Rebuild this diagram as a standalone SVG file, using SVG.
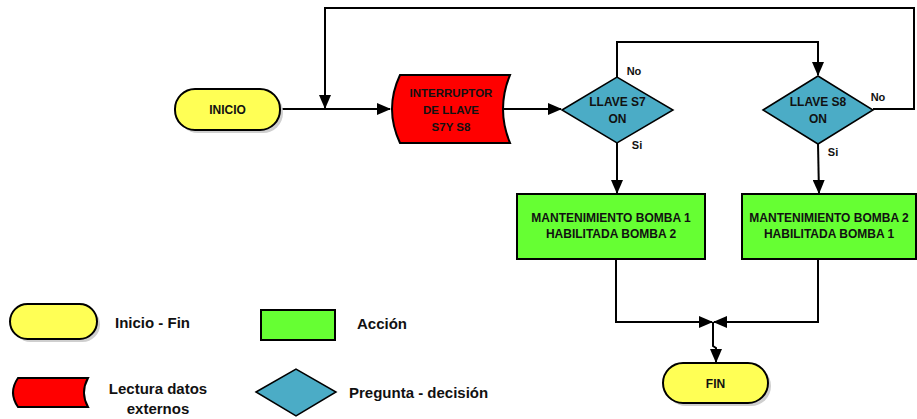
<svg xmlns="http://www.w3.org/2000/svg" width="917" height="419" viewBox="0 0 917 419">
<style>
text{font-family:"Liberation Sans",Arial,sans-serif;font-weight:bold;fill:#111;text-anchor:middle}
.t{font-size:12px}
.lbl{font-size:11px}
.leg{font-size:15px;text-anchor:start}
.sh{fill:#cfcfcf}
.term{fill:#ffff55;stroke:#000;stroke-width:2}
.act{fill:#66ff33;stroke:#000;stroke-width:2}
.dat{fill:#ff0000;stroke:#000;stroke-width:2}
.dec{fill:#4bacc6;stroke:#000;stroke-width:1.5}
.c{fill:none;stroke:#000;stroke-width:2}
</style>
<defs>
<marker id="ah" markerUnits="userSpaceOnUse" markerWidth="14" markerHeight="12" refX="13" refY="6" orient="auto">
<path d="M0,0 L14,6 L0,12 Z" fill="#000"/>
</marker>
</defs>
<g id="connectors">
<path class="c" d="M280,109 L390,109" marker-end="url(#ah)"/>
<path class="c" d="M873,109 L914,109 L914,8 L325,8 L325,108" marker-end="url(#ah)"/>
<path class="c" d="M503,109 L561,109" marker-end="url(#ah)"/>
<path class="c" d="M617,77 L617,42 L818,42 L818,75" marker-end="url(#ah)"/>
<path class="c" d="M617,143 L617,193" marker-end="url(#ah)"/>
<path class="c" d="M818,144 L819,193" marker-end="url(#ah)"/>
<path class="c" d="M616,259 L616,322 L712,322" marker-end="url(#ah)"/>
<path class="c" d="M818,259 L818,322 L714,322" marker-end="url(#ah)"/>
<path class="c" d="M713,322 L713,346 L716,348 L716,362" marker-end="url(#ah)"/>
</g>
<g id="inicio">
<rect class="sh" x="178" y="92" width="105" height="41" rx="20"/>
<rect class="term" x="175" y="89" width="105" height="41" rx="20"/>
<text class="t" x="227.5" y="114">INICIO</text>
</g>
<g id="interruptor">
<path class="dat" d="M400,75 L510,75 Q496,109 510,143 L400,143 Q384,109 400,75 Z"/>
<text class="t" style="font-size:11.5px" x="451" y="97">INTERRUPTOR</text>
<text class="t" style="font-size:11.5px" x="451" y="114">DE LLAVE</text>
<text class="t" style="font-size:11.5px" x="451" y="131">S7Y S8</text>
</g>
<g id="s7">
<path class="dec" d="M562,110 L617,77 L673,110 L617,143 Z"/>
<text class="t" x="617.5" y="106">LLAVE S7</text>
<text class="t" x="617.5" y="123">ON</text>
<text class="lbl" x="634" y="75">No</text>
<text class="lbl" x="637" y="149">Si</text>
</g>
<g id="s8">
<path class="dec" d="M763,110 L818,76 L873,110 L818,144 Z"/>
<text class="t" x="818" y="106">LLAVE S8</text>
<text class="t" x="818" y="123">ON</text>
<text class="lbl" x="878" y="101">No</text>
<text class="lbl" x="833" y="156">Si</text>
</g>
<g id="accion1">
<rect class="act" x="517" y="194" width="188" height="65"/>
<text class="t" x="611" y="222">MANTENIMIENTO BOMBA 1</text>
<text class="t" x="611" y="238">HABILITADA BOMBA 2</text>
</g>
<g id="accion2">
<rect class="act" x="742" y="194" width="174" height="65"/>
<text class="t" x="829" y="222">MANTENIMIENTO BOMBA 2</text>
<text class="t" x="829" y="238">HABILITADA BOMBA 1</text>
</g>
<g id="fin">
<rect class="sh" x="666" y="366" width="105" height="40" rx="20"/>
<rect class="term" x="663" y="363" width="105" height="40" rx="20"/>
<text class="t" x="715.5" y="387.5">FIN</text>
</g>
<g id="legend">
<rect class="sh" x="13" y="307" width="87" height="35" rx="17.5"/>
<rect class="term" x="10" y="304" width="87" height="35" rx="17.5"/>
<text class="leg" x="115" y="328">Inicio - Fin</text>
<rect class="act" x="261" y="310" width="74" height="30"/>
<text class="leg" x="357" y="329">Acción</text>
<path class="dat" d="M18,378 L88,378 Q80,392.5 88,407 L18,407 Q8,392.5 18,378 Z"/>
<text class="leg" style="text-anchor:middle" x="158" y="394">Lectura datos</text>
<text class="leg" style="text-anchor:middle" x="158" y="414">externos</text>
<path class="dec" d="M256,392 L296,369 L336,392 L296,416 Z"/>
<text class="leg" x="349" y="398">Pregunta - decisión</text>
</g>
</svg>
